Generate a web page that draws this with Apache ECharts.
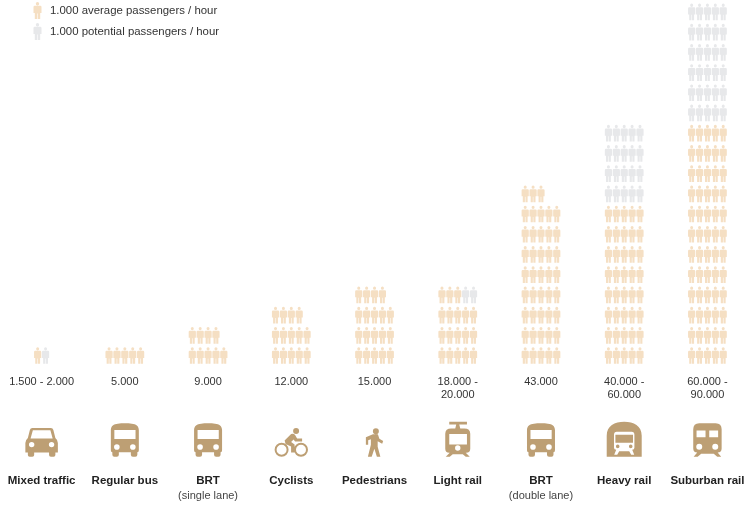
<!DOCTYPE html>
<html><head><meta charset="utf-8">
<style>html,body{margin:0;padding:0;background:#fff}#c{width:751px;height:507px}</style>
<script src="https://cdn.jsdelivr.net/npm/echarts@6/dist/echarts.min.js"></script>
</head><body><div id="c"></div>
<script>
const categories = ['Mixed traffic','Regular bus','BRT','Cyclists','Pedestrians','Light rail','BRT','Heavy rail','Suburban rail'];
const categoryNotes = ['','','(single lane)','','','','(double lane)','',''];
const capacityLabels = ['1.500 - 2.000','5.000','9.000','12.000','15.000','18.000 -\n20.000','43.000','40.000 -\n60.000','60.000 -\n90.000'];
const averageFigures = [1,5,9,14,19,18,43,40,60];
const potentialFigures = [1,0,0,0,0,2,0,20,30];

const AVG_NAME = '1.000 average passengers / hour';
const POT_NAME = '1.000 potential passengers / hour';
const FIGS_PER_ROW = 5, FIG_STEP = 0.0948;
const FONT = '"Liberation Sans", Arial, sans-serif';
const TAN = '#bd9f74', AVG_COL = '#f5dfc3', POT_COL = '#e7e8ea';

const circ = (x,y,r,cw=1)=>`M${x-r} ${y}A${r} ${r} 0 1 ${cw} ${x+r} ${y}A${r} ${r} 0 1 ${cw} ${x-r} ${y}Z`;
const person = 'path://' + circ(4,1.7,1.7) + 'M1.2 3.8H6.8Q8 3.8 8 5V11H6.7V17H4.3V11.5H3.7V17H1.3V11H0V5Q0 3.8 1.2 3.8Z';

const busBody = 'M0 7C0 2.5 3 1 7 .5C11 0 17 0 21 .5C25 1 28 2.5 28 7V27Q28 29 26.5 29V31.5Q26.5 33.4 24.5 33.4H22Q20 33.4 20 31.5V29H8V31.5Q8 33.4 6 33.4H3.5Q1.5 33.4 1.5 31.5V29Q0 29 0 27Z';
const bus = 'path://' + busBody + 'M3.5 6.7V15.7H24.7V6.7Z' + circ(6,23.7,2.8,0) + circ(22,23.7,2.8,0);
const car = 'path://M7 0H25.5Q27.5 0 28 2L30 10Q32.5 12 32.5 15V24.5H30V27Q30 28.7 28.2 28.7H25.5Q23.7 28.7 23.7 27V24.5H8.8V27Q8.8 28.7 7 28.7H4.3Q2.5 28.7 2.5 27V24.5H0V15Q0 12 2.5 10L4.5 2Q5 0 7 0Z'
  + 'M7.5 2.2L5.2 10.5H27.3L25 2.2Z' + circ(6.3,16.6,2.7,0) + circ(26.2,16.6,2.7,0);
const bike = 'path://' + circ(7,21.7,7) + circ(7,21.7,5,0) + circ(26.4,21.7,7) + circ(26.4,21.7,5,0) + circ(21.5,3,3)
  + 'M10 12.5L16.5 6Q19 5 20.5 7L22.5 10.5H27.5V13.5H20.5L19 11.5L16.5 14L20 16.5V24.5H16.5V18.5L11 16Z';
const walker = 'path://' + circ(10,3,3) + 'M0 9L7 6H12L13.5 10.5L17.3 12.8L16.3 15.5L11.8 13V18.5L14.5 28.4H11L8.5 20.5L5.8 28.4H2L5 16.5V11L2.3 12V16.5H0Z';
const tram = 'path://M4 0H21.7V2.7H14L15 6.7H19Q25 6.7 25 12V27Q25 31 21 31H20.5L24.5 35H20.5L17.5 32.5H7.5L4.5 35H.5L4.5 31H4Q0 31 0 27V12Q0 6.7 6 6.7H10L11 2.7H4Z'
  + 'M4 12.3V22.7H21.7V12.3Z' + circ(12.5,26.3,2.7,0);
const heavy = 'path://M0 35V14C0 4 8 0 17.5 0C27 0 35 4 35 14V35Z'
  + 'M10 10Q7.3 10 7.3 13V26Q7.3 28 9.5 28L7.5 33H10.5L12.5 29.5H22.5L24.5 33H27.5L25.5 28Q27.7 28 27.7 26V13Q27.7 10 25 10Z'
  + 'M8.7 13H26.3V21H8.7Z' + circ(11,24.7,1.8) + circ(24,24.7,1.8);
const suburban = 'path://M6 0H22.4Q28.4 0 28.4 6V25.3Q28.4 29.3 24.4 29.3L28 33.4H24L20.5 30.5H8L4.4 33.4H.4L4 29.3Q0 29.3 0 25.3V6Q0 0 6 0Z'
  + 'M3.3 7.3V14H12.3V7.3Z' + 'M16 7.3V14H24.9V7.3Z' + circ(6,23.5,3,0) + circ(22,23.5,3,0);
const iconSymbols = [car,bus,bus,bike,walker,tram,bus,heavy,suburban];
const iconSizes = [[32.5,28.7],[28,33.4],[28,33.4],[33.4,28.7],[17.3,28.4],[25,35],[28,33.4],[35,35],[28.4,33.4]];

function figurePoints(counts, others, startsAtOther){
  const pts = [];
  counts.forEach((n,i)=>{
    const total = n + others[i];
    const perRow = Math.min(total, FIGS_PER_ROW);
    const start = startsAtOther ? others[i] : 0;
    for(let k=start;k<start+n;k++){
      pts.push([i+(k%FIGS_PER_ROW-(perRow-1)/2)*FIG_STEP, Math.floor(k/FIGS_PER_ROW)]);
    }
  });
  return pts;
}
const hiddenAxis = {axisLine:{show:false},axisTick:{show:false},splitLine:{show:false},axisLabel:{show:false}};
const gridBox = {left:-0.65,width:749.7};

const chart = echarts.init(document.getElementById('c'),null,{renderer:'canvas'});
chart.setOption({
  animation:false,
  backgroundColor:'#fff',
  legend:{
    left:33.5,top:2,padding:0,orient:'vertical',itemWidth:15,itemHeight:17,itemGap:4,symbolKeepAspect:true,selectedMode:false,
    textStyle:{fontFamily:FONT,fontSize:11.4,color:'#333'},
    data:[{name:AVG_NAME,icon:person},{name:POT_NAME,icon:person}]
  },
  grid:[
    {...gridBox,top:0,height:366},
    {...gridBox,top:400,height:56.7}
  ],
  xAxis:[
    {gridIndex:0,type:'value',min:-0.5,max:8.5,...hiddenAxis},
    {gridIndex:0,type:'category',data:capacityLabels,position:'bottom',axisLine:{show:false},axisTick:{show:false},
     axisLabel:{interval:0,margin:9,hideOverlap:false,fontFamily:FONT,fontSize:11,lineHeight:13,color:'#333',verticalAlign:'top'}},
    {gridIndex:0,type:'category',data:categories.map((c,i)=>i),position:'bottom',offset:107,axisLine:{show:false},axisTick:{show:false},
     axisLabel:{interval:0,margin:0,hideOverlap:false,verticalAlign:'top',
       formatter:v=>`{b|${categories[+v]}}`+(categoryNotes[+v]?`\n{s|${categoryNotes[+v]}}`:''),
       rich:{b:{fontFamily:FONT,fontSize:11.5,fontWeight:'bold',color:'#222',lineHeight:15},
             s:{fontFamily:FONT,fontSize:11,color:'#444',lineHeight:15}}}},
    {gridIndex:1,type:'category',data:categories.map((c,i)=>i),...hiddenAxis}
  ],
  yAxis:[
    {gridIndex:0,type:'value',min:-0.52,max:17.59,...hiddenAxis},
    {gridIndex:1,type:'value',min:0,max:1,...hiddenAxis}
  ],
  series:[
    {name:AVG_NAME,type:'scatter',silent:true,xAxisIndex:0,yAxisIndex:0,symbol:person,symbolSize:[7.2,16.7],
     itemStyle:{color:AVG_COL,opacity:1},data:figurePoints(averageFigures,potentialFigures,false)},
    {name:POT_NAME,type:'scatter',silent:true,xAxisIndex:0,yAxisIndex:0,symbol:person,symbolSize:[7.2,16.7],
     itemStyle:{color:POT_COL,opacity:1},data:figurePoints(potentialFigures,averageFigures,true)},
    {type:'scatter',silent:true,xAxisIndex:3,yAxisIndex:1,itemStyle:{color:TAN,opacity:1},
     data:categories.map((c,i)=>({value:[i,0],symbol:iconSymbols[i],symbolSize:iconSizes[i],symbolOffset:[0,'-50%']}))}
  ]
});
</script></body></html>
